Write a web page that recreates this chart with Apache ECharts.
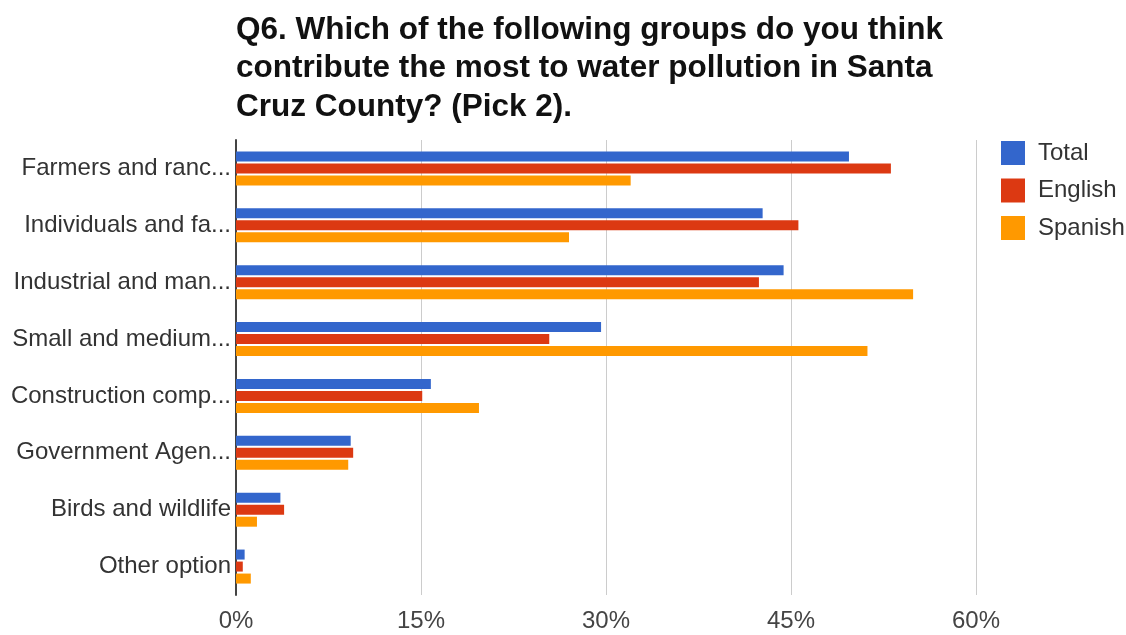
<!DOCTYPE html>
<html>
<head>
<meta charset="utf-8">
<script src="https://cdn.jsdelivr.net/npm/echarts@6/dist/echarts.min.js"></script>
<style>
  html, body { margin: 0; padding: 0; background: #fff; }
  #chart { width: 1126px; height: 635px; }
</style>
</head>
<body>
<div id="chart"></div>
<script>
// Survey answers, share of respondents (%)
const categories = [
  'Farmers and ranc...',
  'Individuals and fa...',
  'Industrial and man...',
  'Small and medium...',
  'Construction comp...',
  'Government Agen...',
  'Birds and wildlife',
  'Other option'
];
const total   = [49.7, 42.7, 44.4, 29.6, 15.8, 9.3, 3.6, 0.7];
const english = [53.1, 45.6, 42.4, 25.4, 15.1, 9.5, 3.9, 0.55];
const spanish = [32.0, 27.0, 54.9, 51.2, 19.7, 9.1, 1.7, 1.2];
const xTicks = [0, 15, 30, 45, 60];

const titleLines = [
  'Q6. Which of the following groups do you think',
  'contribute the most to water pollution in Santa',
  'Cruz County? (Pick 2).'
];

const font = 'Liberation Sans, Arial, sans-serif';
const chart = echarts.init(document.getElementById('chart'));

function barSeries(name, data, color) {
  return {
    name: name,
    type: 'bar',
    data: data,
    barWidth: 10,
    barGap: '20%',
    itemStyle: { color: color },
    emphasis: { disabled: true }
  };
}

chart.setOption({
  animation: false,
  backgroundColor: '#fff',
  title: {
    text: titleLines.join('\n'),
    left: 231,
    top: 6,
    textStyle: {
      fontFamily: font,
      fontWeight: 'bold',
      fontSize: 31.5,
      lineHeight: 38.5,
      color: '#111'
    }
  },
  legend: {
    orient: 'vertical',
    left: 996,
    top: 136,
    icon: 'rect',
    itemWidth: 24,
    itemHeight: 24,
    itemGap: 13.5,
    textStyle: { fontFamily: font, fontSize: 24, color: '#333', padding: [0, 0, 0, 8] },
    data: ['Total', 'English', 'Spanish']
  },
  grid: {
    left: 236,
    right: 150,
    top: 140,
    bottom: 40,
    containLabel: false
  },
  xAxis: {
    type: 'value',
    min: xTicks[0],
    max: xTicks[xTicks.length - 1],
    interval: 15,
    axisLine: { show: false },
    axisTick: { show: false },
    splitLine: { lineStyle: { color: '#cccccc', width: 1 } },
    axisLabel: {
      margin: 14,
      fontFamily: font,
      fontSize: 24,
      color: '#444',
      formatter: v => v + '%'
    }
  },
  yAxis: {
    type: 'category',
    inverse: true,
    data: categories,
    axisLine: { show: true, lineStyle: { color: '#444', width: 2 } },
    axisTick: { show: false },
    axisLabel: {
      margin: 5,
      fontFamily: font,
      fontSize: 24,
      color: '#333'
    }
  },
  series: [
    barSeries('Total', total, '#3366cc'),
    barSeries('English', english, '#dc3912'),
    barSeries('Spanish', spanish, '#ff9900')
  ]
});
</script>
</body>
</html>
